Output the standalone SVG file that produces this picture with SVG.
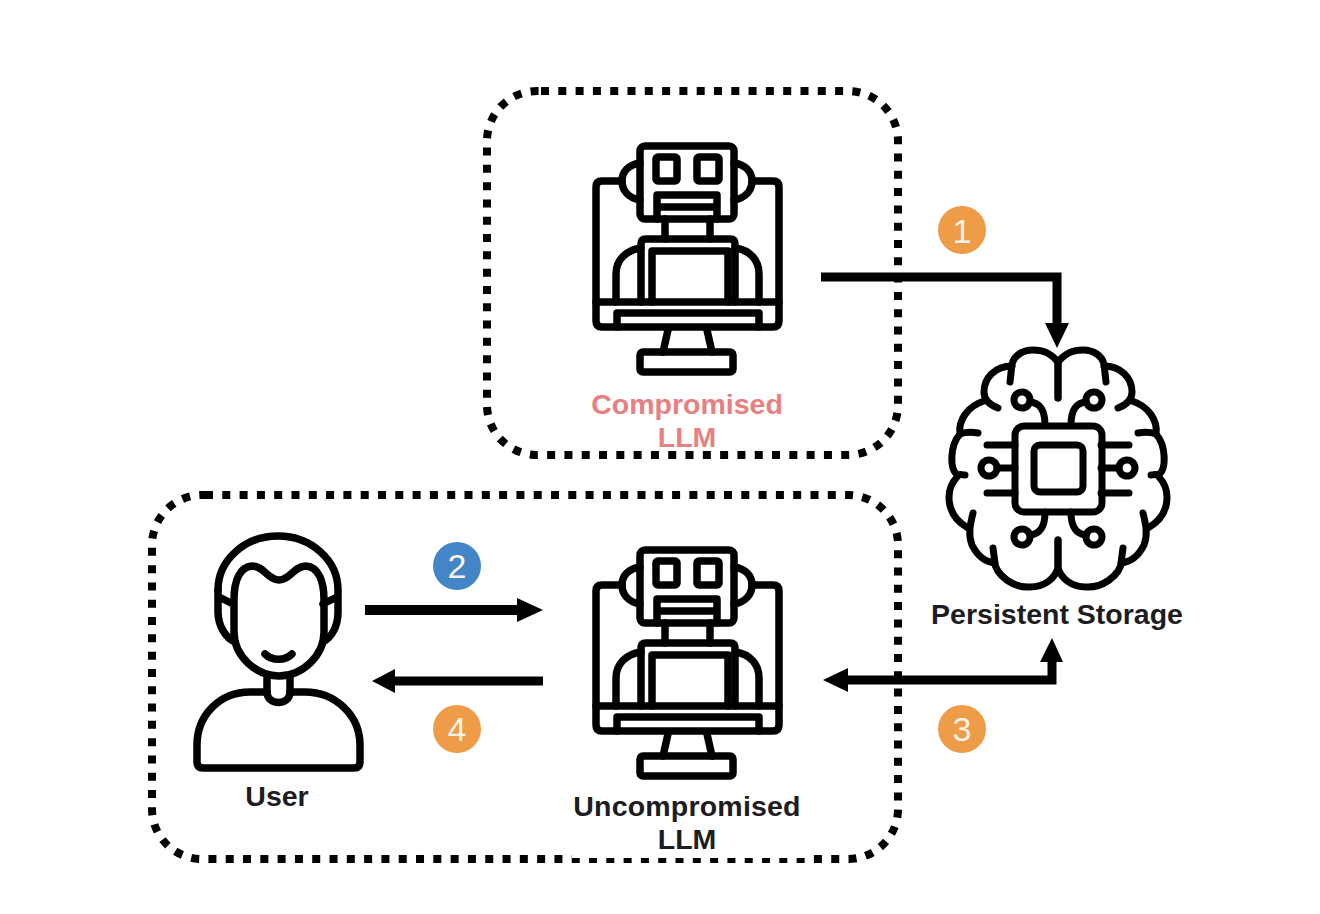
<svg xmlns="http://www.w3.org/2000/svg" xmlns:xlink="http://www.w3.org/1999/xlink" width="1320" height="914" viewBox="0 0 1320 914">
<style>
.box{fill:none;stroke:#000;stroke-width:8;stroke-dasharray:8 9.3}
.icon{fill:none;stroke:#000;stroke-linecap:round;stroke-linejoin:round}
.robot{stroke-width:7.5}
.brain{stroke-width:7}
.user{stroke-width:7.5}
.lbl{font-family:"Liberation Sans",Arial,sans-serif;font-weight:700;font-size:28.5px;text-anchor:middle;fill:#1c1c22}
.red{fill:#e87f80}
.num{font-family:"Liberation Sans",Arial,sans-serif;font-size:34px;text-anchor:middle;fill:#fdf3e8}
.orange{fill:#ee9c47}
.blue{fill:#4286c8}
.line{fill:none;stroke:#000;stroke-width:9;stroke-linejoin:miter}
.head{fill:#000;stroke:none}
</style>
<defs>
<g id="robot-icon" class="icon robot">
<rect x="640" y="146" width="94" height="73" rx="5"/>
<rect x="656" y="157" width="21" height="24" rx="2"/>
<rect x="697" y="157" width="22" height="24" rx="2"/>
<path d="M657 219V195H717V219M657 207H717"/>
<path d="M640 163C628 165 622 172 622 181C622 190 628 198 640 200M734 163C746 165 752 172 752 181C752 190 746 198 734 200"/>
<path d="M622 181H602Q596 181 596 187V321Q596 327 602 327H773Q779 327 779 321V187Q779 181 773 181H752"/>
<path d="M596 302H779"/>
<path d="M617 327V313H759V327"/>
<path d="M665 219V239M710 219V239"/>
<path d="M641 302V244Q641 239 646 239H730Q735 239 735 244V302"/>
<path d="M652 302V251H728V302"/>
<path d="M641 248C626 250 616 260 616 274V302M735 248C750 250 759 260 759 274V302"/>
<path d="M668 330L663 352M707 330L712 352"/>
<rect x="640" y="352" width="93" height="20" rx="3"/>
</g>
<g id="brain-half">
<path d="M1058 362C1050 352 1042 350 1033 350C1022 350 1014 356 1012 364L1010 382"/>
<path d="M1012 366C995 366 984 378 984 392C984 400 990 405 998 408"/>
<path d="M984 401C968 406 958 420 960 434C966 432 972 432 978 433"/>
<path d="M960 434C950 445 949 470 958 475C960 474 964 475 965 475"/>
<path d="M957 477C945 490 945 515 968 528"/>
<path d="M973 513C970 525 968 535 972 545C977 555 985 562 995 563L993 548"/>
<path d="M994 560C996 577 1015 588 1030 587C1045 587 1055 578 1058 568V540"/>
<path d="M1058 362V398"/>
<circle cx="1022" cy="400" r="8"/>
<circle cx="989" cy="468" r="8"/>
<circle cx="1022" cy="537" r="8"/>
<path d="M1030 402C1040 403 1045 410 1045 425"/>
<path d="M1030 535C1040 534 1045 527 1045 512"/>
<path d="M987 445H1015M997 468H1015M987 493H1015"/>
</g>
</defs>

<rect width="1320" height="914" fill="#fff"/>

<g id="compromised-box">
<path class="box" d="M541 91H848A50 50 0 0 1 898 141V405A50 50 0 0 1 848 455H537A50 50 0 0 1 487 405V141A50 50 0 0 1 537 91Z"/>
</g>
<g id="uncompromised-box">
<path class="box" d="M205 495H848A50 50 0 0 1 898 545V809A50 50 0 0 1 848 859H202A50 50 0 0 1 152 809V545A50 50 0 0 1 202 495Z"/>
</g>

<g id="connectors">
<path class="line" d="M821 277H1057V325"/>
<polygon class="head" points="1045,323 1069,323 1057,348"/>
<path class="line" d="M846 680H1052V660"/>
<polygon class="head" points="1040,662 1063,662 1052,638"/>
<polygon class="head" points="848,668 848,692 823,680"/>
<path class="line" style="stroke-width:10" d="M365 610H520"/>
<polygon class="head" points="517,598 517,622 543,610"/>
<path class="line" d="M543 681H393"/>
<polygon class="head" points="395,669 395,693 372,681"/>
</g>

<g id="compromised-llm">
<use xlink:href="#robot-icon" href="#robot-icon"/>
<text class="lbl red" x="687" y="414">Compromised</text>
<text class="lbl red" x="687" y="447">LLM</text>
</g>

<g id="persistent-storage">
<g class="icon brain">
<use xlink:href="#brain-half" href="#brain-half"/>
<use xlink:href="#brain-half" href="#brain-half" transform="translate(2116 0) scale(-1 1)"/>
<rect x="1015" y="426" width="87" height="86" rx="9"/>
<rect x="1034" y="445" width="49" height="47" rx="6"/>
</g>
<text class="lbl" x="1057" y="624">Persistent Storage</text>
</g>

<g id="user">
<g class="icon user">
<path d="M218 590C218 560 245 536 278 536C311 536 338 560 338 590V612C338 626 332 637 323 642"/>
<path d="M218 590V612C218 626 226 638 235 642"/>
<path d="M219 597L233 604M337 597L323 604"/>
<path d="M234 600C234 580 240 567 252 566C264 566 268 580 279 580C290 580 294 566 306 566C318 567 324 580 324 600V632C324 656 302 676 279 676C256 676 234 656 234 632Z"/>
<path d="M265 654C272 661 285 661 292 654"/>
<path d="M267 678V692C267 706 290 706 290 692V678"/>
<path d="M267 692H250C220 692 197 715 197 745V762Q197 768 203 768H354Q360 768 360 762V745C360 715 335 692 305 692H290"/>
</g>
<text class="lbl" x="277" y="806">User</text>
</g>

<g id="uncompromised-llm">
<use xlink:href="#robot-icon" href="#robot-icon" y="404"/>
<rect x="572" y="787" width="233" height="71" fill="#fff"/>
<text class="lbl" x="687" y="816" style="letter-spacing:.2px">Uncompromised</text>
<text class="lbl" x="687" y="849">LLM</text>
</g>

<g id="step-1"><circle class="orange" cx="962" cy="230" r="24"/><text class="num" x="962" y="243">1</text></g>
<g id="step-2"><circle class="blue" cx="457" cy="566" r="24"/><text class="num" x="457" y="578">2</text></g>
<g id="step-3"><circle class="orange" cx="962" cy="729" r="24"/><text class="num" x="962" y="741">3</text></g>
<g id="step-4"><circle class="orange" cx="457" cy="729" r="24"/><text class="num" x="457" y="741">4</text></g>
</svg>
